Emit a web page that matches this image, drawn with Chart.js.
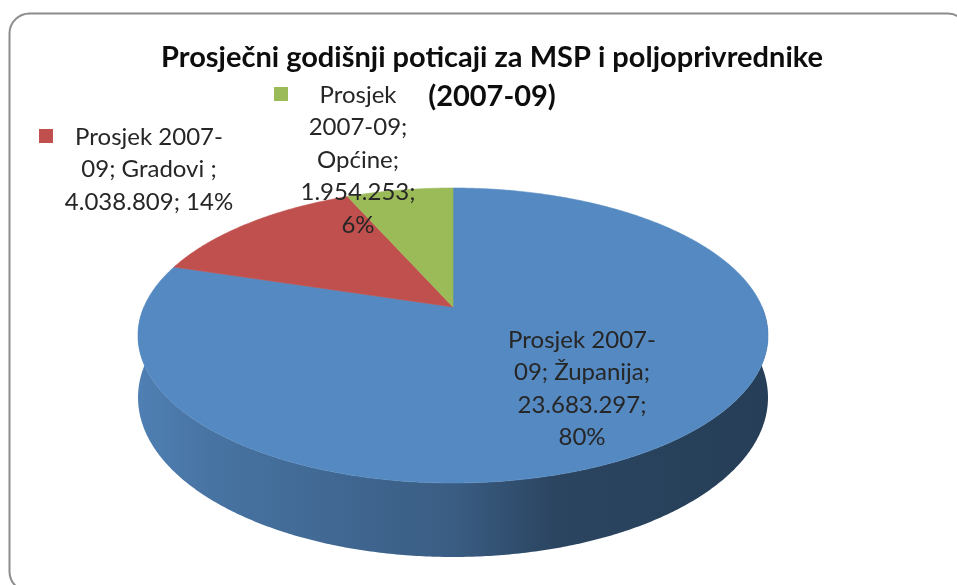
<!DOCTYPE html>
<html>
<head>
<meta charset="utf-8">
<script src="https://cdn.jsdelivr.net/npm/chart.js@4.4.1/dist/chart.umd.min.js"></script>
<style>
  html, body { margin: 0; padding: 0; background: #fff; }
  #wrap { width: 957px; height: 585px; }
</style>
</head>
<body>
<div id="wrap"><canvas id="pieChart" width="957" height="585"></canvas></div>
<script>
// podaci
const seriesName = 'Prosjek 2007-09';
const categories = ['Županija', 'Gradovi ', 'Općine'];
const values = [23683297, 4038809, 1954253];
const percents = [80, 14, 6];

const sliceColors = ['#5589c1', '#c0504d', '#9bbb59'];
const FONT = 'Lato, "Open Sans", sans-serif';

// perspektiva 3D pite: gornja, sredisnja i donja tocka te pola sirine na ekranu
const VIEW = { cx: 453, top: 188, center: 307, bottom: 483, halfW: 315, depth: 74 };
const pc = (VIEW.top + VIEW.bottom - 2 * VIEW.center) / (VIEW.top - VIEW.bottom);
const pa = VIEW.bottom - VIEW.center + VIEW.bottom * pc;
const pd = VIEW.halfW * Math.sqrt(1 - pc * pc);
const pdepth = VIEW.depth * (1 + pc);

// (u, v) na jedinicnom krugu -> tocka na ekranu; h = 1 za dno stijenke
function project(u, v, h) {
    const w = 1 + pc * v;
    return [VIEW.cx + pd * u / w, (VIEW.center + pa * v) / w + (h ? pdepth / w : 0)];
}

// pozicije natpisa: centar teksta, y prve linije, max sirina, kvadratic legende
const labelBoxes = [
    { x: 582, y: 340, maxW: 160, key: false },
    { x: 149, y: 137, maxW: 178, key: true },
    { x: 358, y: 95, maxW: 122, key: true }
];

function fmt(v) {
    return String(v).replace(/\B(?=(\d{3})+(?!\d))/g, '.');
}

// prelamanje teksta na razmaku ili iza crtice (kao Excel)
function wrap(ctx, text, maxW) {
    const tokens = [];
    let cur = '';
    for (const ch of text) {
        if (ch === ' ') {
            if (cur) tokens.push(cur);
            cur = ' ';
        } else {
            cur += ch;
            if (ch === '-') { tokens.push(cur); cur = ''; }
        }
    }
    if (cur) tokens.push(cur);
    const lines = [];
    let line = '';
    tokens.forEach(t => {
        const test = line + t;
        if (line && ctx.measureText(test.trim()).width > maxW) {
            lines.push(line.trim());
            line = t.trimStart();
        } else {
            line = test;
        }
    });
    if (line) lines.push(line.trim());
    return lines;
}

function shade(hex, f) {
    const n = parseInt(hex.slice(1), 16);
    const r = Math.round(((n >> 16) & 255) * f);
    const g = Math.round(((n >> 8) & 255) * f);
    const b = Math.round((n & 255) * f);
    return `rgb(${r},${g},${b})`;
}

const frame = {
    id: 'frame',
    beforeDraw(chart) {
        const ctx = chart.ctx;
        ctx.save();
        ctx.fillStyle = '#fff';
        ctx.fillRect(0, 0, chart.width, chart.height);
        ctx.beginPath();
        ctx.roundRect(9.5, 13.5, 958, 578, 20);
        ctx.strokeStyle = '#8c8c8c';
        ctx.lineWidth = 2;
        ctx.stroke();
        ctx.restore();
    }
};

// crta isjecke koje je izracunao Chart.js (startAngle / endAngle) u perspektivi
const pie3d = {
    id: 'pie3d',
    beforeDatasetDraw(chart, args) {
        const ctx = chart.ctx;
        const arcs = args.meta.data;
        const step = Math.PI / 360;

        // bocna stijenka (prednja polovica)
        arcs.forEach((arc, i) => {
            const a = Math.max(arc.startAngle, 0);
            const b = Math.min(arc.endAngle, Math.PI);
            if (b <= a) return;
            const base = sliceColors[i];
            const g = ctx.createLinearGradient(VIEW.cx - VIEW.halfW, 0, VIEW.cx + VIEW.halfW, 0);
            g.addColorStop(0, shade(base, 0.93));
            g.addColorStop(0.12, shade(base, 0.84));
            g.addColorStop(0.5, shade(base, 0.68));
            g.addColorStop(0.66, shade(base, 0.5));
            g.addColorStop(1, shade(base, 0.45));
            ctx.save();
            ctx.beginPath();
            for (let t = a; t <= b + 1e-9; t += step) {
                const p = project(Math.cos(t), Math.sin(t), 0);
                t === a ? ctx.moveTo(p[0], p[1]) : ctx.lineTo(p[0], p[1]);
            }
            for (let t = b; t >= a - 1e-9; t -= step) {
                const p = project(Math.cos(t), Math.sin(t), 1);
                ctx.lineTo(p[0], p[1]);
            }
            ctx.closePath();
            ctx.fillStyle = g;
            ctx.fill();
            ctx.restore();
        });

        // gornja ploha
        arcs.forEach((arc, i) => {
            const a = arc.startAngle, b = arc.endAngle;
            ctx.save();
            ctx.beginPath();
            const c0 = project(0, 0, 0);
            ctx.moveTo(c0[0], c0[1]);
            for (let t = a; t < b; t += step) {
                const p = project(Math.cos(t), Math.sin(t), 0);
                ctx.lineTo(p[0], p[1]);
            }
            const pe = project(Math.cos(b), Math.sin(b), 0);
            ctx.lineTo(pe[0], pe[1]);
            ctx.closePath();
            ctx.fillStyle = sliceColors[i];
            ctx.strokeStyle = sliceColors[i];
            ctx.lineWidth = 0.6;
            ctx.fill();
            ctx.stroke();
            ctx.restore();
        });
        return false;
    },
    afterDatasetsDraw(chart) {
        const ctx = chart.ctx;
        ctx.save();
        ctx.font = '24px ' + FONT;
        ctx.textAlign = 'center';
        ctx.textBaseline = 'middle';
        const lh = 32.5;
        categories.forEach((cat, i) => {
            const box = labelBoxes[i];
            const text = `${seriesName}; ${cat}; ${fmt(values[i])}; ${percents[i]}%`;
            const lines = wrap(ctx, text, box.maxW);
            ctx.fillStyle = '#262626';
            lines.forEach((ln, k) => ctx.fillText(ln, box.x, box.y + k * lh));
            if (box.key) {
                const w = Math.max(...lines.map(l => ctx.measureText(l).width));
                ctx.fillStyle = sliceColors[i];
                ctx.fillRect(Math.round(box.x - w / 2 - 12 - 14), Math.round(box.y - 8), 14, 14);
            }
        });
        ctx.restore();
    }
};

new Chart(document.getElementById('pieChart'), {
    type: 'pie',
    data: {
        labels: categories,
        datasets: [{
            label: seriesName,
            data: values,
            backgroundColor: sliceColors,
            borderWidth: 0
        }]
    },
    options: {
        responsive: false,
        devicePixelRatio: 1,
        animation: false,
        events: [],
        layout: { padding: { left: 27, right: 0, top: 0, bottom: 20 } },
        plugins: {
            legend: { display: false },
            tooltip: { enabled: false },
            title: {
                display: true,
                text: ['Prosječni godišnji poticaji za MSP i poljoprivrednike', '(2007-09)'],
                color: '#0d0d0d',
                font: { family: FONT, size: 29, weight: 'bold', lineHeight: 1.345 },
                padding: { top: 38, bottom: 10 }
            }
        }
    },
    plugins: [frame, pie3d]
});
</script>
</body>
</html>
